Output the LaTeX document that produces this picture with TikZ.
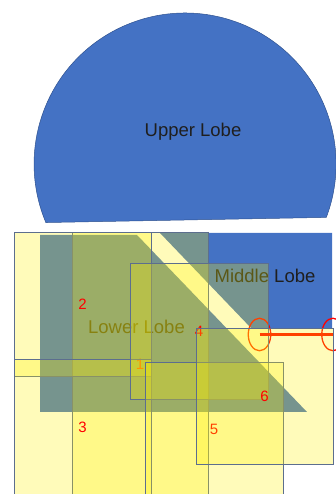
\documentclass[tikz,border=0pt]{standalone}
\usepackage{fontspec}
\setmainfont{Liberation Sans}
\usetikzlibrary{shapes.geometric}
\definecolor{lobeblue}{RGB}{68,114,196}
\definecolor{lobeedge}{RGB}{47,82,143}
\definecolor{boxedge}{RGB}{92,110,142}
\begin{document}
\begin{tikzpicture}[x=1pt,y=1pt,
  lobe/.style={fill=lobeblue},
  lobetext/.style={text=black!88, font=\fontsize{18.5}{20}\selectfont},
  zone/.style={draw=boxedge, line width=0.65pt, fill=yellow, fill opacity=0.27,
    draw opacity=1, text opacity=1, text=red, inner sep=0pt,
    font=\fontsize{15}{16}\selectfont},
  ring/.style={ellipse, draw=red, line width=1.3pt, inner sep=0pt,
    minimum width=22.5, minimum height=32.5},
  link/.style={draw=red, line width=3pt},
]
\useasboundingbox (0,0) rectangle (336,494);

% upper lobe: circle cut by a slightly tilted chord
\filldraw[lobe, draw=lobeedge, line width=0.5pt]
  (326.3,276.6) arc[start angle=-20.7, end angle=202.8, radius=151] -- cycle;
\node[lobetext] (upper) at (193,362) {Upper Lobe};

% lower and middle lobes
\fill[lobe] (40,259) -- (137,259) -- (307,82) -- (40,82) -- cycle;
\node[lobetext] (lower) at (136.5,167) {Lower Lobe};
\fill[lobe] (160,261) -- (332,261) -- (332,166) -- (251,166) -- cycle;
\node[lobetext] (middle) at (265,218) {Middle Lobe};

% translucent numbered zones
\node[zone, minimum width=136, minimum height=265] (z1) at (140,129.5)
  {1};
\node[zone, minimum width=137, minimum height=144] (z2) at (82.5,190) {2};
\node[zone, minimum width=137, minimum height=136] (z3) at (82.5,67) {3};

% marked rings
\node[ring] (ringL) at (259.5,159.5) {};
\node[ring] (ringR) at (333,159.5) {};

\node[zone, minimum width=138, minimum height=136] (z4) at (199,163) {4};
\node[zone, minimum width=138, minimum height=135] (z5) at (214,64.5) {5};

% bar between the rings
\draw[link] (ringL.center) -- (ringR.center);

\node[zone, minimum width=137, minimum height=136] (z6) at (264.5,98) {6};
\end{tikzpicture}
\end{document}
